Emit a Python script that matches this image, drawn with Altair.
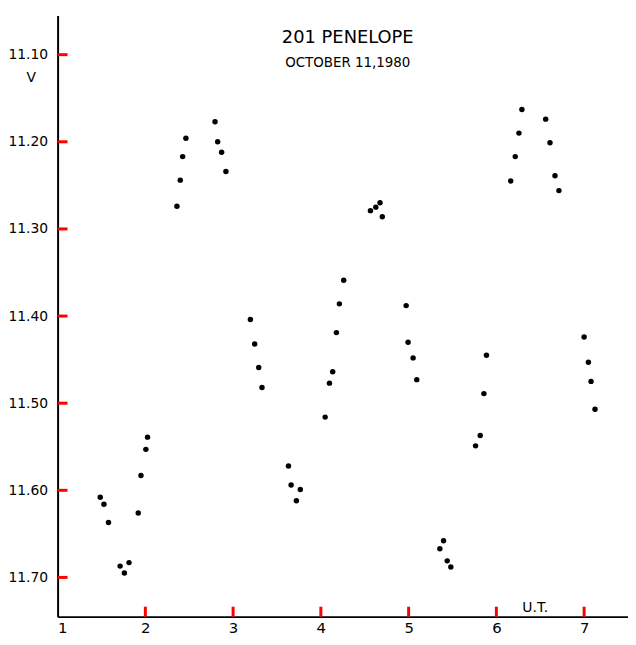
import altair as alt
import pandas as pd

# Data (U.T. hours, V magnitude)
ut = [1.486, 1.528, 1.580, 1.712, 1.761, 1.814, 1.919, 1.950, 2.006, 2.025,
      2.360, 2.398, 2.425, 2.462, 2.794, 2.824, 2.869, 2.918,
      3.197, 3.246, 3.292, 3.329, 3.631, 3.661, 3.721, 3.766,
      4.049, 4.098, 4.135, 4.177, 4.211, 4.260,
      4.565, 4.626, 4.674, 4.700,
      4.972, 4.994, 5.051, 5.093,
      5.356, 5.398, 5.440, 5.481,
      5.763, 5.816, 5.858, 5.887,
      6.163, 6.215, 6.257, 6.291, 6.562, 6.611, 6.668, 6.713,
      7.000, 7.049, 7.079, 7.124]
vmag = [11.608, 11.616, 11.637, 11.687, 11.695, 11.683, 11.626, 11.583, 11.553, 11.539,
        11.274, 11.244, 11.217, 11.196, 11.177, 11.200, 11.212, 11.234,
        11.404, 11.432, 11.459, 11.482, 11.572, 11.594, 11.612, 11.599,
        11.516, 11.477, 11.464, 11.419, 11.386, 11.359,
        11.279, 11.275, 11.270, 11.286,
        11.388, 11.430, 11.448, 11.473,
        11.667, 11.658, 11.681, 11.688,
        11.549, 11.537, 11.489, 11.445,
        11.245, 11.217, 11.190, 11.163, 11.174, 11.201, 11.239, 11.256,
        11.424, 11.453, 11.475, 11.507]

x_ticks = [1, 2, 3, 4, 5, 6, 7]
y_ticks = [11.10, 11.20, 11.30, 11.40, 11.50, 11.60, 11.70]

W, H = 575, 606
FONT = "DejaVu Sans"

df = pd.DataFrame({"ut": ut, "v": vmag})
xs = alt.Scale(domain=[1, 7.5], nice=False, zero=False)
ys = alt.Scale(domain=[11.055, 11.745], reverse=True, nice=False, zero=False)

points = alt.Chart(df).mark_circle(size=30, color="black", opacity=1).encode(
    x=alt.X("ut:Q", scale=xs, axis=alt.Axis(
        values=x_ticks, title="U.T.", titleFont=FONT, titleFontSize=14,
        titleFontWeight="normal", titleColor="black", titleX=481, titleY=-9,
        titleAlign="center", titleBaseline="middle",
        tickSize=0, labelFont=FONT, labelFontSize=15,
        labelColor="black", labelPadding=4, domainColor="black", domainWidth=2,
        grid=False, format="d")),
    y=alt.Y("v:Q", scale=ys, axis=alt.Axis(
        values=y_ticks, title="V", titleFont=FONT, titleFontSize=14,
        titleFontWeight="normal", titleColor="black", titleAngle=0,
        titleX=-27, titleY=63, titleAlign="center", titleBaseline="middle",
        tickSize=0, labelFont=FONT, labelFontSize=14,
        labelColor="black", labelPadding=10, domainColor="black", domainWidth=2,
        grid=False, format=".2f")),
)

yticks = alt.Chart(pd.DataFrame({"v": y_ticks})).mark_rule(
    color="red", strokeWidth=3
).encode(y=alt.Y("v:Q", scale=ys), x=alt.value(0), x2=alt.value(10))

xticks = alt.Chart(pd.DataFrame({"u": x_ticks[1:]})).mark_rule(
    color="red", strokeWidth=3
).encode(x=alt.X("u:Q", scale=xs), y=alt.value(H), y2=alt.value(H - 10))

chart = alt.layer(points, yticks, xticks).properties(
    width=W, height=H,
    title=alt.TitleParams(
        text="201  PENELOPE", subtitle="OCTOBER 11,1980",
        font=FONT, fontSize=18, fontWeight="normal", color="black",
        subtitleFont=FONT, subtitleFontSize=13.5, subtitleColor="black",
        subtitlePadding=9, anchor="middle", dx=5, dy=58),
    autosize=alt.AutoSizeParams(type="none"),
    padding={"left": 50, "top": 5, "right": 0, "bottom": 19},
).configure_view(strokeWidth=0)

chart.save("out.html", embed_options={"renderer": "svg", "actions": False})
